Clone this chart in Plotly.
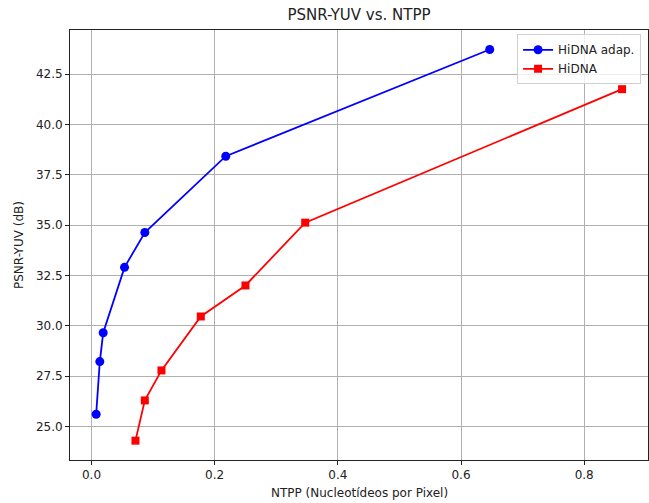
import plotly.graph_objects as go

# Data
ntpp_adap = [0.0076, 0.0135, 0.019, 0.0536, 0.0866, 0.218, 0.6466]
psnr_adap = [25.6, 28.22, 29.65, 32.9, 34.63, 38.42, 43.72]

ntpp_hidna = [0.0714, 0.0866, 0.1136, 0.1775, 0.25, 0.347, 0.8615]
psnr_hidna = [24.29, 26.29, 27.78, 30.46, 32.0, 35.12, 41.75]

x_ticks = [0.0, 0.2, 0.4, 0.6, 0.8]
x_tick_labels = ["0.0", "0.2", "0.4", "0.6", "0.8"]
y_ticks = [25.0, 27.5, 30.0, 32.5, 35.0, 37.5, 40.0, 42.5]
y_tick_labels = ["25.0", "27.5", "30.0", "32.5", "35.0", "37.5", "40.0", "42.5"]

FONT = "DejaVu Sans"
W, H = 649, 503
L, R, T, B = 70, 1, 30, 43

fig = go.Figure()
fig.add_trace(go.Scatter(
    x=ntpp_adap, y=psnr_adap, mode="lines+markers", name="HiDNA adap.",
    line=dict(color="#0000ff", width=1.8),
    marker=dict(symbol="circle", size=9, color="#0000ff"),
))
fig.add_trace(go.Scatter(
    x=ntpp_hidna, y=psnr_hidna, mode="lines+markers", name="HiDNA",
    line=dict(color="#ff0000", width=1.8),
    marker=dict(symbol="square", size=8, color="#ff0000"),
))

axis_common = dict(
    showgrid=True, gridcolor="#b0b0b0", gridwidth=1,
    showline=True, linecolor="#222222", linewidth=1, mirror=True,
    ticks="outside", ticklen=4, tickcolor="#222222",
    zeroline=False, automargin=False,
    tickfont=dict(family=FONT, size=12, color="#222222"),
)

fig.update_layout(
    width=W, height=H,
    margin=dict(l=L, r=R, t=T, b=B, autoexpand=False),
    paper_bgcolor="white", plot_bgcolor="white",
    font=dict(family=FONT, color="#222222"),
    title=dict(text="PSNR-YUV vs. NTPP", x=(L + W - R) / 2 / W, xanchor="center",
               xref="container", yref="container",
               y=1 - 15 / H, yanchor="middle",
               font=dict(family=FONT, size=15, color="#222222")),
    showlegend=True,
    legend=dict(
        x=0.988, y=0.99, xanchor="right", yanchor="top",
        bgcolor="rgba(255,255,255,0.8)", bordercolor="#d0d0d0", borderwidth=1,
        font=dict(family=FONT, size=12, color="#222222"),
        itemwidth=30, tracegroupgap=0,
    ),
    annotations=[
        dict(text="NTPP (Nucleotídeos por Pixel)", xref="paper", yref="paper",
             x=0.5, y=-(493 - (H - B)) / (H - T - B), xanchor="center", yanchor="middle",
             showarrow=False, font=dict(family=FONT, size=12, color="#222222")),
        dict(text="PSNR-YUV (dB)", xref="paper", yref="paper", textangle=-90,
             x=-(L - 19) / (W - L - R), y=0.5, xanchor="center", yanchor="middle",
             showarrow=False, font=dict(family=FONT, size=12, color="#222222")),
    ],
)
fig.update_xaxes(range=[-0.0349, 0.9036], tickvals=x_ticks, ticktext=x_tick_labels, **axis_common)
fig.update_yaxes(range=[23.33, 44.69], tickvals=y_ticks, ticktext=y_tick_labels, **axis_common)

fig.write_html(
    "out.html",
    config={"displayModeBar": False},
    post_script="document.body.style.margin='0';document.body.style.overflow='hidden';",
)
